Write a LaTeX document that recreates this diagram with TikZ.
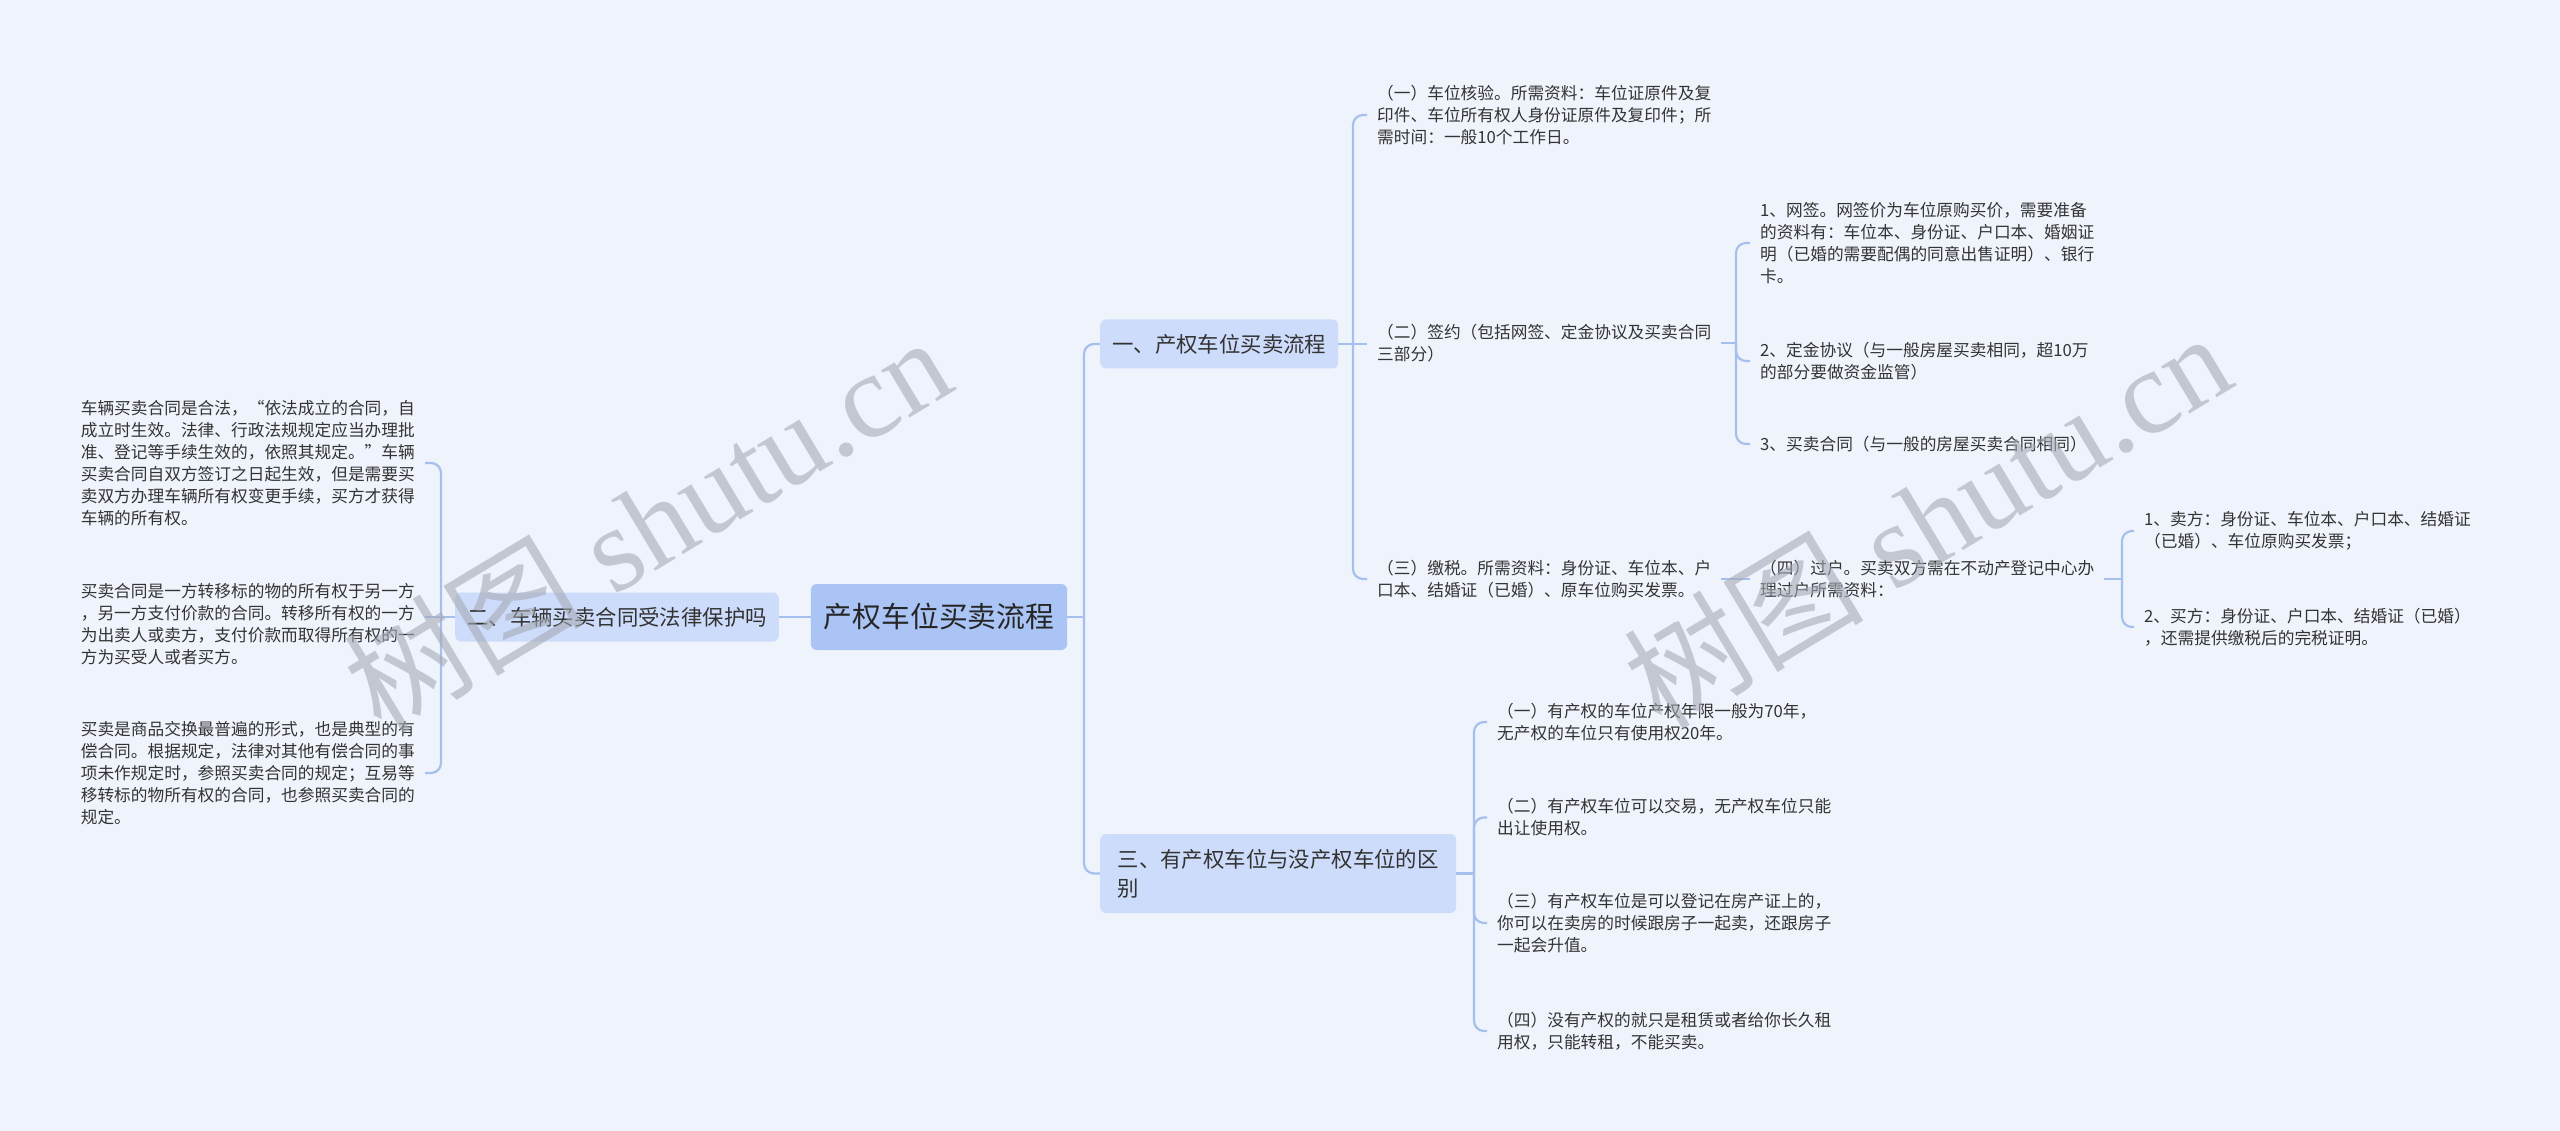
\documentclass[tikz,border=0pt]{standalone}
\usepackage{fontspec}
\setmainfont{Noto Sans CJK SC}
\newfontfamily\wmserif{Liberation Serif}
\definecolor{bgc}{RGB}{239,243,252}
\definecolor{linec}{RGB}{166,192,238}
\definecolor{rootc}{RGB}{170,196,246}
\definecolor{brc}{RGB}{205,220,250}
\definecolor{txtc}{RGB}{51,51,51}
\definecolor{wmc}{RGB}{165,170,182}
\begin{document}
\begin{tikzpicture}[x=1pt,y=-1pt,
 conn/.style={draw=linec, line width=2.2pt, rounded corners=10pt},
 leaf/.style={inner xsep=10pt, inner ysep=2pt, align=left, text=txtc, font=\fontsize{16.7}{22}\selectfont},
 rootbox/.style={fill=rootc, rounded corners=6pt, minimum height=66pt, inner xsep=13pt, text=black!85, font=\fontsize{28.8}{34}\selectfont},
 brbox/.style={fill=brc, rounded corners=6pt, minimum height=49pt, inner xsep=12pt, text=txtc, align=left, font=\fontsize{21.4}{29}\selectfont},
 wm/.style={text=wmc, opacity=0.6, rotate=31, inner sep=0pt, font=\fontsize{120}{120}\selectfont}]
\useasboundingbox (0,0) rectangle (2560,1131);
\fill[bgc] (0,0) rectangle (2560,1131);

% nodes
\node[rootbox] (root) at (939,617) {产权车位买卖流程};
\node[brbox, anchor=east] (b2) at (779,617) {二、车辆买卖合同受法律保护吗};
\node[brbox, anchor=west] (b1) at (1100,344) {一、产权车位买卖流程};
\node[brbox, anchor=west, minimum height=79pt, minimum width=356pt] (b3) at (1100,873.5) {三、有产权车位与没产权车位的区\\别};

\node[leaf, anchor=east] (l1) at (425,463) {车辆买卖合同是合法，“依法成立的合同，自\\成立时生效。法律、行政法规规定应当办理批\\准、登记等手续生效的，依照其规定。”车辆\\买卖合同自双方签订之日起生效，但是需要买\\卖双方办理车辆所有权变更手续，买方才获得\\车辆的所有权。};
\node[leaf, anchor=east] (l2) at (425,624) {买卖合同是一方转移标的物的所有权于另一方\\，另一方支付价款的合同。转移所有权的一方\\为出卖人或卖方，支付价款而取得所有权的一\\方为买受人或者买方。};
\node[leaf, anchor=east] (l3) at (425,773) {买卖是商品交换最普遍的形式，也是典型的有\\偿合同。根据规定，法律对其他有偿合同的事\\项未作规定时，参照买卖合同的规定；互易等\\移转标的物所有权的合同，也参照买卖合同的\\规定。};

\node[leaf, anchor=west] (a1) at (1367,115) {（一）车位核验。所需资料：车位证原件及复\\印件、车位所有权人身份证原件及复印件；所\\需时间：一般10个工作日。};
\node[leaf, anchor=west] (a2) at (1367,343) {（二）签约（包括网签、定金协议及买卖合同\\三部分）};
\node[leaf, anchor=west] (a3) at (1367,579) {（三）缴税。所需资料：身份证、车位本、户\\口本、结婚证（已婚）、原车位购买发票。};

\node[leaf, anchor=west] (c1) at (1750,243) {1、网签。网签价为车位原购买价，需要准备\\的资料有：车位本、身份证、户口本、婚姻证\\明（已婚的需要配偶的同意出售证明）、银行\\卡。};
\node[leaf, anchor=west] (c2) at (1750,361) {2、定金协议（与一般房屋买卖相同，超10万\\的部分要做资金监管）};
\node[leaf, anchor=west] (c3) at (1750,444) {3、买卖合同（与一般的房屋买卖合同相同）};

\node[leaf, anchor=west] (d) at (1750,579) {（四）过户。买卖双方需在不动产登记中心办\\理过户所需资料：};
\node[leaf, anchor=west] (e1) at (2134,531) {1、卖方：身份证、车位本、户口本、结婚证\\（已婚）、车位原购买发票；};
\node[leaf, anchor=west] (e2) at (2134,627) {2、买方：身份证、户口本、结婚证（已婚）\\，还需提供缴税后的完税证明。};

\node[leaf, anchor=west] (f1) at (1487,722) {（一）有产权的车位产权年限一般为70年，\\无产权的车位只有使用权20年。};
\node[leaf, anchor=west] (f2) at (1487,817.5) {（二）有产权车位可以交易，无产权车位只能\\出让使用权。};
\node[leaf, anchor=west] (f3) at (1487,923) {（三）有产权车位是可以登记在房产证上的，\\你可以在卖房的时候跟房子一起卖，还跟房子\\一起会升值。};
\node[leaf, anchor=west] (f4) at (1487,1031) {（四）没有产权的就只是租赁或者给你长久租\\用权，只能转租，不能买卖。};

% junctions
\coordinate (j1) at (1084,617);
\coordinate (j2) at (441,617);
\coordinate (j3) at (1353,344);
\coordinate (j4) at (1736,343);
\coordinate (j5) at (2122,579);
\coordinate (j6) at (1474,873.5);

% connectors
\draw[conn] (root.east) -- (j1);
\draw[conn] (j1) |- (b1.west);
\draw[conn] (j1) |- (b3.west);
\draw[conn] (root.west) -- (b2.east);

\draw[conn] (b2.west) -- (j2);
\draw[conn] (j2) |- (l1.east);
\draw[conn] (j2) -- (l2.east |- j2);
\draw[conn] (j2) |- (l3.east);

\draw[conn] (b1.east) -- (j3);
\draw[conn] (j3) |- (a1.west);
\draw[conn] (j3) -- (a2.west |- j3);
\draw[conn] (j3) |- (a3.west);

\draw[conn] (a2.east |- j4) -- (j4);
\draw[conn] (j4) |- (c1.west);
\draw[conn] (j4) |- (c2.west);
\draw[conn] (j4) |- (c3.west);

\draw[conn] (a3.east) -- (d.west);
\draw[conn] (d.east) -- (j5);
\draw[conn] (j5) |- (e1.west);
\draw[conn] (j5) |- (e2.west);

\draw[conn] (b3.east) -- (j6);
\draw[conn] (j6) |- (f1.west);
\draw[conn] (j6) |- (f2.west);
\draw[conn] (j6) |- (f3.west);
\draw[conn] (j6) |- (f4.west);

% watermarks
\node[wm] (wm1) at (647,523) {树图\hspace{0.25em}{\wmserif shutu.cn}};
\node[wm] (wm2) at (1927,519) {树图\hspace{0.25em}{\wmserif shutu.cn}};
\end{tikzpicture}
\end{document}
